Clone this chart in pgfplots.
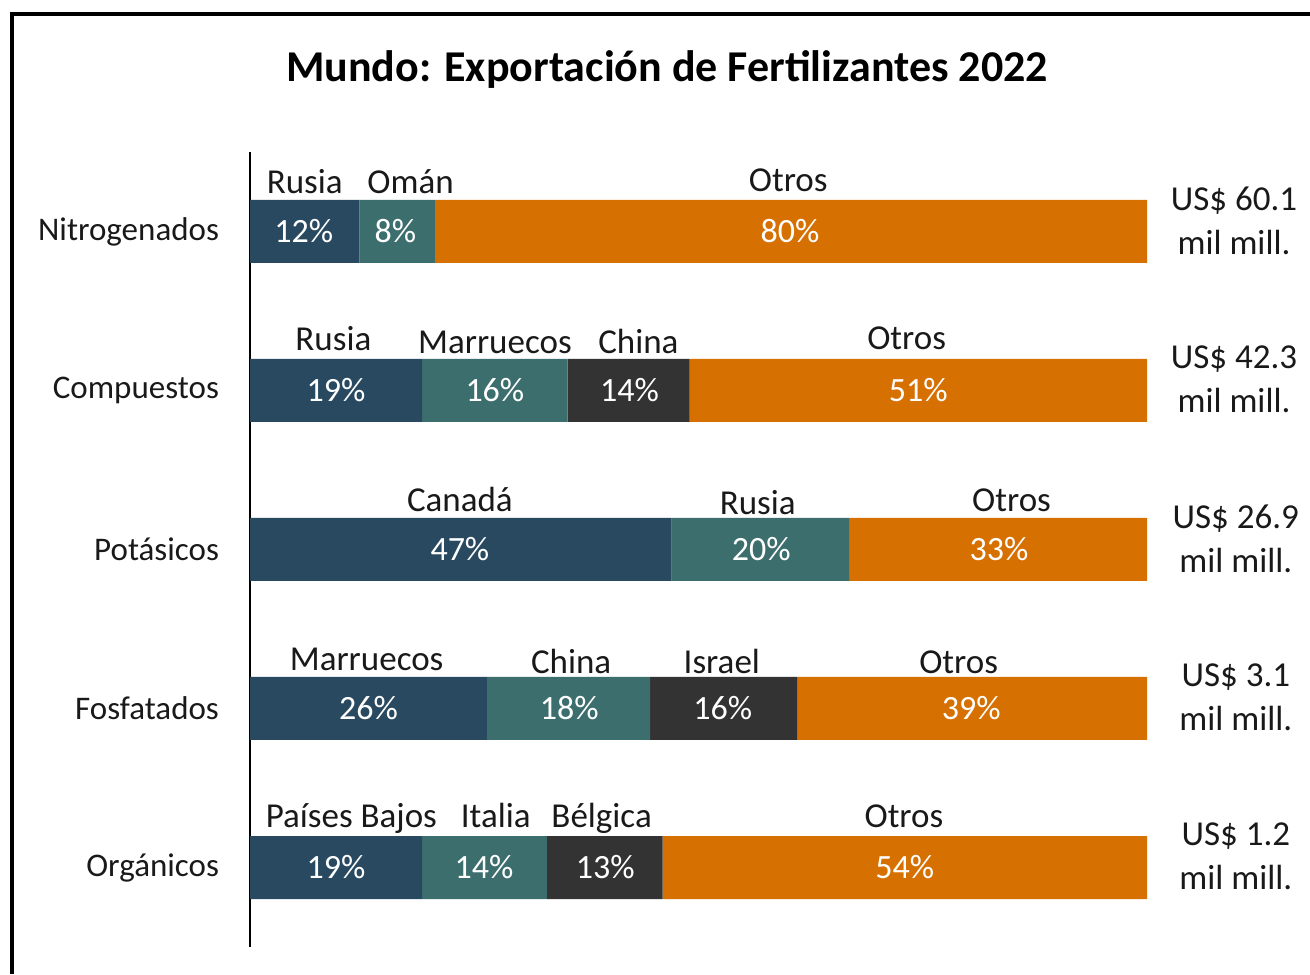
\documentclass[border=0pt]{standalone}
\usepackage{fontspec}
\setmainfont{Carlito}
\usepackage{pgfplots}
\pgfplotsset{compat=1.18}
\definecolor{cblue}{HTML}{284960}
\definecolor{cteal}{HTML}{3D6E6E}
\definecolor{cgray}{HTML}{333333}
\definecolor{corange}{HTML}{D67000}
\begin{document}
\begin{tikzpicture}[
  pct/.style={text=white, font=\fontsize{17}{20}\selectfont, anchor=center, inner sep=0pt},
  cty/.style={text=black!90, font=\fontsize{17.5}{20}\selectfont, anchor=base, inner sep=0pt},
  tot/.style={text=black!90, font=\fontsize{17.5}{22}\selectfont, align=center, anchor=center, inner sep=0pt}]
\useasboundingbox (0pt,0pt) rectangle (655pt,487pt);
\draw[line width=1.8pt] (6pt,0pt) -- (6pt,480pt) -- (655pt,480pt);
\node[font=\fontsize{22}{26}\selectfont\bfseries] at (333.5pt,452pt) {Mundo: Exportación de Fertilizantes 2022};
\begin{axis}[
  at={(125pt,13.5pt)}, anchor=south west,
  scale only axis, width=448.5pt, height=397.5pt,
  xbar stacked, bar width=31.5pt,
  xmin=0, xmax=100, ymin=-0.5, ymax=4.5,
  axis x line=none, axis y line*=left,
  ytick={0,1,2,3,4},
  yticklabels={Orgánicos,Fosfatados,Potásicos,Compuestos,Nitrogenados},
  major tick length=0pt,
  yticklabel style={font=\fontsize{16.5}{19}\selectfont, xshift=-12pt, text=black!90},
  y axis line style={line width=1.2pt, black},
  clip=false,
]
\addplot[fill=cblue, draw=none] coordinates {(12.2,4) (19.2,3) (47.0,2) (26.4,1) (19.2,0)};
\addplot[fill=cteal, draw=none] coordinates {(8.4,4) (16.2,3) (19.8,2) (18.2,1) (13.9,0)};
\addplot[fill=cgray, draw=none] coordinates {(0,4) (13.6,3) (0,2) (16.4,1) (12.9,0)};
\addplot[fill=corange, draw=none] coordinates {(79.4,4) (51.0,3) (33.2,2) (39.0,1) (54.0,0)};
% percentage anchors
\coordinate (a1) at (axis cs:6.0,4);
\coordinate (a2) at (axis cs:16.2,4);
\coordinate (a3) at (axis cs:60.2,4);
\coordinate (b1) at (axis cs:9.6,3);
\coordinate (b2) at (axis cs:27.3,3);
\coordinate (b3) at (axis cs:42.3,3);
\coordinate (b4) at (axis cs:74.5,3);
\coordinate (c1) at (axis cs:23.4,2);
\coordinate (c2) at (axis cs:57.0,2);
\coordinate (c3) at (axis cs:83.5,2);
\coordinate (d1) at (axis cs:13.2,1);
\coordinate (d2) at (axis cs:35.6,1);
\coordinate (d3) at (axis cs:52.7,1);
\coordinate (d4) at (axis cs:80.4,1);
\coordinate (e1) at (axis cs:9.6,0);
\coordinate (e2) at (axis cs:26.1,0);
\coordinate (e3) at (axis cs:39.6,0);
\coordinate (e4) at (axis cs:73.0,0);
% country labels
\node[cty] at (axis cs:6.1,4.24) {Rusia};
\node[cty] at (axis cs:17.9,4.24) {Omán};
\node[cty] at (axis cs:60.0,4.25) {Otros};
\node[cty] at (axis cs:9.3,3.25) {Rusia};
\node[cty] at (axis cs:27.3,3.23) {Marruecos};
\node[cty] at (axis cs:43.3,3.23) {China};
\node[cty] at (axis cs:73.2,3.26) {Otros};
\node[cty] at (axis cs:23.4,2.24) {Canadá};
\node[cty] at (axis cs:56.6,2.22) {Rusia};
\node[cty] at (axis cs:84.9,2.24) {Otros};
\node[cty] at (axis cs:13.0,1.24) {Marruecos};
\node[cty] at (axis cs:35.8,1.22) {China};
\node[cty] at (axis cs:52.6,1.22) {Israel};
\node[cty] at (axis cs:79.0,1.22) {Otros};
\node[cty] at (axis cs:11.3,0.25) {Países Bajos};
\node[cty] at (axis cs:27.4,0.25) {Italia};
\node[cty] at (axis cs:39.2,0.25) {Bélgica};
\node[cty] at (axis cs:72.9,0.25) {Otros};
% Totals
\node[tot] at (axis cs:109.7,4.07) {US\$ 60.1\\mil mill.};
\node[tot] at (axis cs:109.7,3.07) {US\$ 42.3\\mil mill.};
\node[tot] at (axis cs:109.9,2.07) {US\$ 26.9\\mil mill.};
\node[tot] at (axis cs:109.9,1.07) {US\$ 3.1\\mil mill.};
\node[tot] at (axis cs:109.9,0.07) {US\$ 1.2\\mil mill.};
\end{axis}
\node[pct] at (a1) {12\%};
\node[pct] at (a2) {8\%};
\node[pct] at (a3) {80\%};
\node[pct] at (b1) {19\%};
\node[pct] at (b2) {16\%};
\node[pct] at (b3) {14\%};
\node[pct] at (b4) {51\%};
\node[pct] at (c1) {47\%};
\node[pct] at (c2) {20\%};
\node[pct] at (c3) {33\%};
\node[pct] at (d1) {26\%};
\node[pct] at (d2) {18\%};
\node[pct] at (d3) {16\%};
\node[pct] at (d4) {39\%};
\node[pct] at (e1) {19\%};
\node[pct] at (e2) {14\%};
\node[pct] at (e3) {13\%};
\node[pct] at (e4) {54\%};
\end{tikzpicture}
\end{document}
